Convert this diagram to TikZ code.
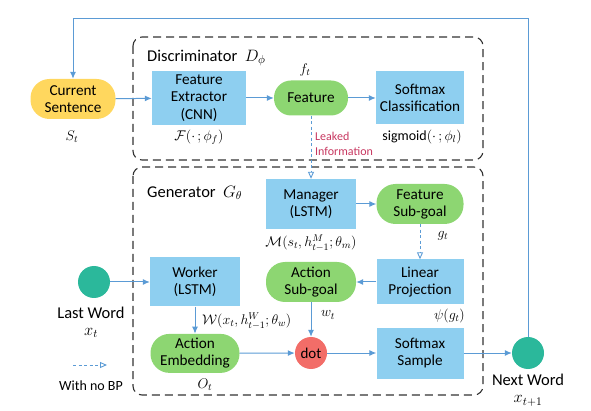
\RequirePackage{fix-cm}
\documentclass[tikz,border=0pt]{standalone}
\usepackage{amsmath}
\usepackage{xcolor}
\usepackage{fontspec}
\setmainfont{Carlito}
\usepackage{tikz}
\usetikzlibrary{arrows.meta,positioning}
\definecolor{boxblue}{HTML}{8ECFF0}
\definecolor{subgreen}{HTML}{8DD672}
\definecolor{sentyellow}{HTML}{FFD75E}
\definecolor{wordteal}{HTML}{2BB89B}
\definecolor{dotred}{HTML}{F26D68}
\definecolor{linkblue}{HTML}{5B9BD5}
\definecolor{leakred}{HTML}{C7365F}

\begin{document}
\begin{tikzpicture}[x=1pt, y=-1pt,
            box/.style={rectangle, fill=boxblue, minimum width=88pt, minimum height=50pt, align=center, inner sep=2pt, font=\fontsize{15.2}{17.5}\selectfont},
            pill/.style={rectangle, rounded corners=19pt, fill=subgreen, minimum width=88pt, minimum height=40pt, align=center, inner sep=2pt, font=\fontsize{15.2}{17}\selectfont},
            word/.style={circle, fill=wordteal, minimum size=32pt, inner sep=0pt},
            dashframe/.style={draw=black!80, dash pattern=on 8pt off 5pt, line width=1.1pt, rounded corners=9pt},
            link/.style={draw=linkblue, line width=1pt, -{Latex[length=7pt,width=6pt]}},
            nobp/.style={draw=linkblue, line width=0.9pt, dash pattern=on 3pt off 2.5pt, -{Triangle[open,length=7pt,width=6pt]}},
            lbl/.style={inner sep=1pt, font=\fontsize{14}{16}\selectfont},
            biglbl/.style={inner sep=1pt, font=\fontsize{16.5}{18}\selectfont}]
            \useasboundingbox (0,0) rectangle (591,411);
            \draw[dashframe] (133,37) rectangle (483,160);
            \draw[dashframe] (133,167) rectangle (483,395);
            \node[biglbl, anchor=west] (dtitle) at (146,58) {Discriminator \ $D_\phi$};
            \node[biglbl, anchor=west] (gtitle) at (146,193) {Generator \ $G_\theta$};
            \node[pill, fill=sentyellow, minimum width=85pt] (sentence) at (73,99) {Current\\Sentence};
            \node[box, minimum width=94pt, minimum height=54pt] (extractor) at (199,98) {Feature\\Extractor\\(CNN)};
            \node[pill, minimum width=74pt, minimum height=35pt, rounded corners=17pt] (feature) at (311,98) {Feature};
            \node[box, minimum height=53pt] (classify) at (420,98) {Softmax\\Classification};
            \node[box, minimum width=90pt] (manager) at (311,204) {Manager\\(LSTM)};
            \node[pill, minimum width=87pt] (fsubgoal) at (420,204) {Feature\\Sub-goal};
            \node[box, minimum width=87pt, minimum height=45pt] (projection) at (420,282) {Linear\\Projection};
            \node[pill, minimum width=90pt] (asubgoal) at (311,282) {Action\\Sub-goal};
            \node[circle, fill=dotred, minimum size=32pt, inner sep=0pt, font=\fontsize{15}{17}\selectfont] (dot) at (311,353) {dot};
            \node[box, minimum width=87pt, minimum height=51pt] (sample) at (420,353) {Softmax\\Sample};
            \node[word] (next) at (528,353) {};
            \node[word] (last) at (94,282) {};
            \node[box, minimum width=90pt, minimum height=49pt] (worker) at (195,282) {Worker\\(LSTM)};
            \node[pill, minimum width=89pt, minimum height=39pt, below=27pt of worker] (embedding) {Action\\Embedding};
            \node[lbl] (st) at (72,137) {$S_t$};
            \node[lbl] (flabel) at (199,137) {$\mathcal{F}(\cdot\,;\phi_f)$};
            \node[lbl] (ft) at (305,70) {$f_t$};
            \node[lbl] (siglabel) at (422,137) {$\mathrm{sigmoid}(\cdot\,;\phi_l)$};
            \node[font=\fontsize{12}{15}\selectfont, inner sep=1pt, text=leakred, align=left, anchor=west] (leak) at (314,144) {Leaked\\Information};
            \node[lbl] (mlabel) at (311,243) {$\mathcal{M}(s_t,h^M_{t-1};\theta_m)$};
            \node[lbl] (gt) at (443,236) {$g_t$};
            \node[lbl, anchor=east] (psilabel) at (466,316) {$\psi(g_t)$};
            \node[lbl] (wt) at (328,315) {$w_t$};
            \node[lbl, anchor=west] (wlabel) at (201,321) {$\mathcal{W}(x_t,h^W_{t-1};\theta_w)$};
            \node[lbl] (ot) at (205,385) {$O_t$};
            \node[biglbl] (lastlbl) at (91,313) {Last Word};
            \node[biglbl] (xt) at (91,333) {$x_t$};
            \node[biglbl] (nextlbl) at (528,380) {Next Word};
            \node[biglbl] (xnext) at (528,401) {$x_{t+1}$};
            \coordinate (bpstart) at (73,365);
            \coordinate (bpend) at (107,365);
            \node[lbl] (bplbl) at (91,386) {With no BP};
            \draw[link] (sentence) -- (extractor);
            \draw[link] (extractor) -- (feature);
            \draw[link] (feature) -- (classify);
            \draw[nobp] (feature) -- (manager);
            \draw[link] (manager) -- (fsubgoal);
            \draw[nobp] (fsubgoal) -- (projection);
            \draw[link] (projection) -- (asubgoal);
            \draw[link] (asubgoal) -- (dot);
            \draw[link] (last) -- (worker);
            \draw[link] (worker) -- (embedding);
            \draw[link] (embedding) -- (dot);
            \draw[link] (dot) -- (sample);
            \draw[link] (sample) -- (next);
            \draw[link] (next.north) -- (next.north |- 0,19) -| (sentence.north);
            \draw[nobp] (bpstart) -- (bpend);
        \end{tikzpicture}
\end{document}
